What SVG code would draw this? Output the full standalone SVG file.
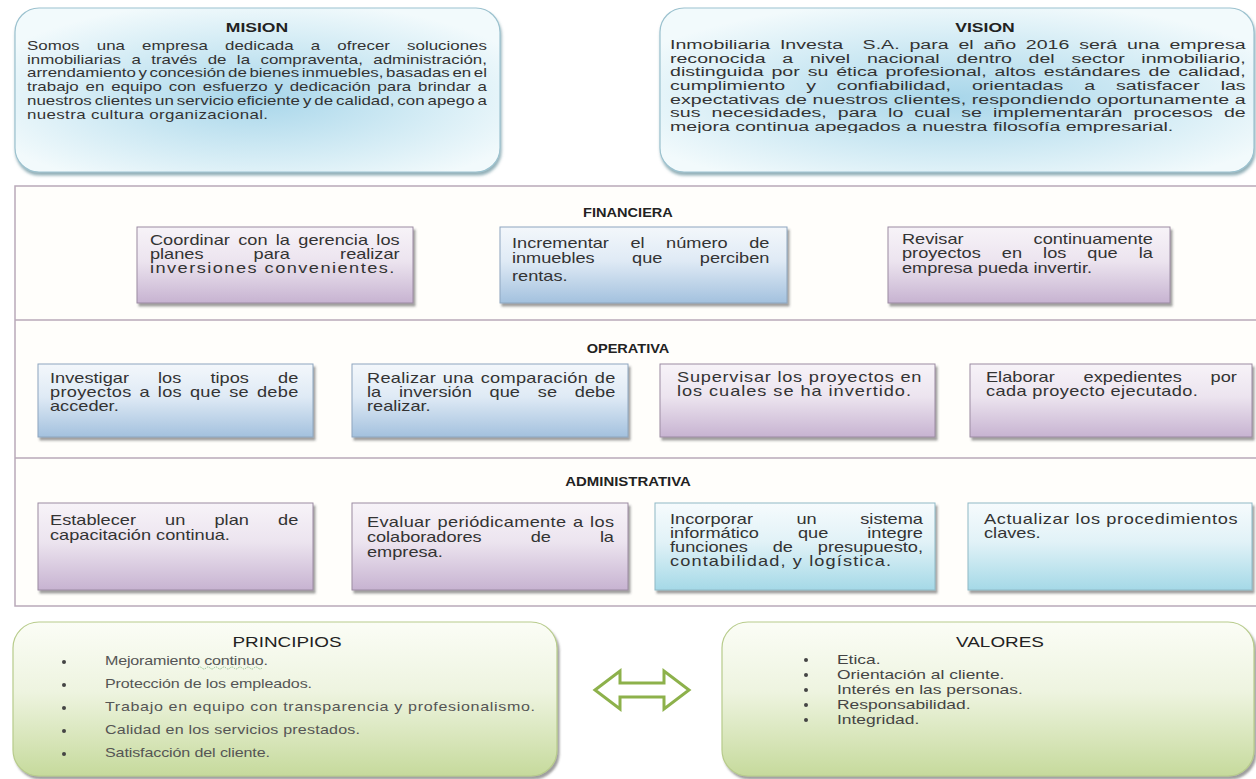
<svg xmlns="http://www.w3.org/2000/svg" width="1256" height="779" viewBox="0 0 1256 779">
<defs>
<radialGradient id="gBlueTop" cx="0.5" cy="0.55" r="0.6">
<stop offset="0" stop-color="#a8d6ea"/><stop offset="0.6" stop-color="#d4ecf5"/><stop offset="1" stop-color="#f2fafc"/>
</radialGradient>
<linearGradient id="gPurple" x1="0" y1="0" x2="0" y2="1">
<stop offset="0" stop-color="#f7f3f8"/><stop offset="0.45" stop-color="#ece4ef"/><stop offset="1" stop-color="#c7b3d1"/>
</linearGradient>
<linearGradient id="gBlue" x1="0" y1="0" x2="0" y2="1">
<stop offset="0" stop-color="#f3f7fb"/><stop offset="0.45" stop-color="#dfeaf5"/><stop offset="1" stop-color="#a3c1de"/>
</linearGradient>
<linearGradient id="gTeal" x1="0" y1="0" x2="0" y2="1">
<stop offset="0" stop-color="#f6fbfd"/><stop offset="0.45" stop-color="#e1f2f7"/><stop offset="1" stop-color="#a5d9e7"/>
</linearGradient>
<linearGradient id="gGreen" x1="0" y1="0" x2="0" y2="1">
<stop offset="0" stop-color="#fbfdf6"/><stop offset="0.45" stop-color="#eef4e0"/><stop offset="1" stop-color="#c6da9c"/>
</linearGradient>
<filter id="sh" x="-5%" y="-10%" width="115%" height="130%">
<feDropShadow dx="2" dy="3" stdDeviation="1.2" flood-color="#505050" flood-opacity="0.55"/>
</filter>
<filter id="shs" x="-5%" y="-10%" width="115%" height="130%">
<feDropShadow dx="1" dy="3" stdDeviation="1.5" flood-color="#4a7a88" flood-opacity="0.6"/>
</filter>
<clipPath id="visClip"><rect x="-20" y="8" width="500" height="125"/></clipPath>
<style>
text{font-family:"Liberation Sans",Arial,sans-serif;fill:#333;}
.m{font-size:13px;}
.vi{font-size:13.5px;}
.t{font-size:14px;}
.h{font-size:13px;font-weight:bold;text-anchor:middle;fill:#222;}
.hb{font-size:14px;text-anchor:middle;fill:#222;}
.s{font-size:12px;fill:#555;}
.v{font-size:13px;fill:#444;}
.pb{stroke:#9b8ba2;stroke-width:1;filter:url(#sh);}
.bb{stroke:#8ea6bf;stroke-width:1;filter:url(#sh);}
.tb{stroke:#8fb9c6;stroke-width:1;filter:url(#sh);}
.big{fill:url(#gBlueTop);stroke:#9cc2cf;stroke-width:1.2;filter:url(#shs);}
.grn{fill:url(#gGreen);stroke:#b8cc8c;stroke-width:1.2;filter:url(#sh);}
.div{stroke:#b9a9b9;stroke-width:1.5;fill:none;}
</style>
</defs>

<g id="mision">
<rect class="big" x="15" y="8" width="485" height="164" rx="24"/>
<text class="h" transform="translate(257 0) scale(1.3 1)" x="0" y="32" style="font-size:13.5px">MISION</text>
<g transform="translate(27 0) scale(1.3 1)">
<text class="m" x="0" y="50" word-spacing="9.6" textLength="353.8" lengthAdjust="spacing">Somos una empresa dedicada a ofrecer soluciones</text>
<text class="m" x="0" y="64" word-spacing="4.4" textLength="353.8" lengthAdjust="spacing">inmobiliarias a través de la compraventa, administración,</text>
<text class="m" x="0" y="77" word-spacing="-1.6" textLength="353.8" lengthAdjust="spacing">arrendamiento y concesión de bienes inmuebles, basadas en el</text>
<text class="m" x="0" y="91" word-spacing="1.6" textLength="353.8" lengthAdjust="spacing">trabajo en equipo con esfuerzo y dedicación para brindar a</text>
<text class="m" x="0" y="105" word-spacing="-1.3" textLength="353.8" lengthAdjust="spacing">nuestros clientes un servicio eficiente y de calidad, con apego a</text>
<text class="m" x="0" y="119" textLength="185.4" lengthAdjust="spacing">nuestra cultura organizacional.</text>
</g>
</g>

<g id="vision">
<rect class="big" x="660" y="8" width="594" height="164" rx="24"/>
<text class="h" transform="translate(985 0) scale(1.3 1)" x="0" y="32" style="font-size:13.5px">VISION</text>
<g transform="translate(670 0) scale(1.45 1)">
<text class="vi" x="0" y="49" word-spacing="3" textLength="397" lengthAdjust="spacing" xml:space="preserve">Inmobiliaria Investa  S.A. para el año 2016 será una empresa</text>
<text class="vi" x="0" y="63" word-spacing="7.8" textLength="397" lengthAdjust="spacing">reconocida a nivel nacional dentro del sector inmobiliario,</text>
<text class="vi" x="0" y="76" word-spacing="1.7" textLength="397" lengthAdjust="spacing">distinguida por su ética profesional, altos estándares de calidad,</text>
<text class="vi" x="0" y="90" word-spacing="10.7" textLength="397" lengthAdjust="spacing">cumplimiento y confiabilidad, orientadas a satisfacer las</text>
<text class="vi" x="0" y="104" textLength="397" lengthAdjust="spacing">expectativas de nuestros clientes, respondiendo oportunamente a</text>
<text class="vi" x="0" y="117" word-spacing="3.9" textLength="397" lengthAdjust="spacing">sus necesidades, para lo cual se implementarán procesos de</text>
<text class="vi" x="0" y="131" clip-path="url(#visClip)">mejora continua apegados a nuestra filosofía empresarial.</text>
</g>
</g>

<g id="panel">
<rect x="15" y="186" width="1260" height="420" fill="#fffefb" stroke="#b9a9b9" stroke-width="1.5"/>
<line class="div" x1="15" y1="320" x2="1256" y2="320"/>
<line class="div" x1="15" y1="458" x2="1256" y2="458"/>
</g>

<g id="financiera">
<text class="h" transform="translate(628 0) scale(1.12 1)" x="0" y="217">FINANCIERA</text>
</g>
<g id="f1">
<rect class="pb" x="137" y="227" width="276" height="76" fill="url(#gPurple)"/>
<g transform="translate(150 0) scale(1.3 1)">
<text class="t" x="0" y="245" word-spacing="2.5" textLength="192" lengthAdjust="spacing">Coordinar con la gerencia los</text>
<text class="t" x="0" y="259" word-spacing="34.7" textLength="192" lengthAdjust="spacing">planes para realizar</text>
<text class="t" x="0" y="273" textLength="188" lengthAdjust="spacing">inversiones convenientes.</text>
</g>
</g>
<g id="f2">
<rect class="bb" x="500" y="227" width="287" height="76" fill="url(#gBlue)"/>
<g transform="translate(512 0) scale(1.3 1)">
<text class="t" x="0" y="248" word-spacing="12.7" textLength="198" lengthAdjust="spacing">Incrementar el número de</text>
<text class="t" x="0" y="263" word-spacing="25" textLength="198" lengthAdjust="spacing">inmuebles que perciben</text>
<text class="t" x="0" y="281">rentas.</text>
</g>
</g>
<g id="f3">
<rect class="pb" x="888" y="227" width="282" height="76" fill="url(#gPurple)"/>
<g transform="translate(902 0) scale(1.3 1)">
<text class="t" x="0" y="244" word-spacing="49.9" textLength="193" lengthAdjust="spacing">Revisar continuamente</text>
<text class="t" x="0" y="258" word-spacing="12.3" textLength="193" lengthAdjust="spacing">proyectos en los que la</text>
<text class="t" x="0" y="273">empresa pueda invertir.</text>
</g>
</g>

<g id="operativa">
<text class="h" transform="translate(628 0) scale(1.12 1)" x="0" y="353">OPERATIVA</text>
</g>
<g id="o1">
<rect class="bb" x="38" y="364" width="275" height="73" fill="url(#gBlue)"/>
<g transform="translate(50 0) scale(1.3 1)">
<text class="t" x="0" y="383" word-spacing="18.5" textLength="191" lengthAdjust="spacing">Investigar los tipos de</text>
<text class="t" x="0" y="397" word-spacing="2" textLength="191" lengthAdjust="spacing">proyectos a los que se debe</text>
<text class="t" x="0" y="411">acceder.</text>
</g>
</g>
<g id="o2">
<rect class="bb" x="352" y="364" width="276" height="73" fill="url(#gBlue)"/>
<g transform="translate(367 0) scale(1.3 1)">
<text class="t" x="0" y="383" word-spacing="1" textLength="191" lengthAdjust="spacing">Realizar una comparación de</text>
<text class="t" x="0" y="397" word-spacing="9.8" textLength="191" lengthAdjust="spacing">la inversión que se debe</text>
<text class="t" x="0" y="411">realizar.</text>
</g>
</g>
<g id="o3">
<rect class="pb" x="660" y="364" width="275" height="73" fill="url(#gPurple)"/>
<g transform="translate(677 0) scale(1.3 1)">
<text class="t" x="0" y="382" textLength="188" lengthAdjust="spacing">Supervisar los proyectos en</text>
<text class="t" x="0" y="396" textLength="180" lengthAdjust="spacing">los cuales se ha invertido.</text>
</g>
</g>
<g id="o4">
<rect class="pb" x="970" y="364" width="282" height="73" fill="url(#gPurple)"/>
<g transform="translate(986 0) scale(1.3 1)">
<text class="t" x="0" y="382" word-spacing="18.3" textLength="193" lengthAdjust="spacing">Elaborar expedientes por</text>
<text class="t" x="0" y="396" textLength="163" lengthAdjust="spacing">cada proyecto ejecutado.</text>
</g>
</g>

<g id="administrativa">
<text class="h" transform="translate(628 0) scale(1.15 1)" x="0" y="486">ADMINISTRATIVA</text>
</g>
<g id="a1">
<rect class="pb" x="38" y="503" width="275" height="87" fill="url(#gPurple)"/>
<g transform="translate(50 0) scale(1.3 1)">
<text class="t" x="0" y="525" word-spacing="18.5" textLength="191" lengthAdjust="spacing">Establecer un plan de</text>
<text class="t" x="0" y="540">capacitación continua.</text>
</g>
</g>
<g id="a2">
<rect class="pb" x="352" y="503" width="276" height="87" fill="url(#gPurple)"/>
<g transform="translate(367 0) scale(1.3 1)">
<text class="t" x="0" y="527" word-spacing="1" textLength="190" lengthAdjust="spacing">Evaluar periódicamente a los</text>
<text class="t" x="0" y="542" word-spacing="33.9" textLength="190" lengthAdjust="spacing">colaboradores de la</text>
<text class="t" x="0" y="557">empresa.</text>
</g>
</g>
<g id="a3">
<rect class="tb" x="655" y="503" width="280" height="87" fill="url(#gTeal)"/>
<g transform="translate(670 0) scale(1.3 1)">
<text class="t" x="0" y="524" word-spacing="29.6" textLength="194.6" lengthAdjust="spacing">Incorporar un sistema</text>
<text class="t" x="0" y="538" word-spacing="26.1" textLength="194.6" lengthAdjust="spacing">informático que integre</text>
<text class="t" x="0" y="552" word-spacing="15.2" textLength="194.6" lengthAdjust="spacing">funciones de presupuesto,</text>
<text class="t" x="0" y="566" textLength="170" lengthAdjust="spacing">contabilidad, y logística.</text>
</g>
</g>
<g id="a4">
<rect class="tb" x="968" y="503" width="284" height="87" fill="url(#gTeal)"/>
<g transform="translate(984 0) scale(1.3 1)">
<text class="t" x="0" y="524" textLength="195" lengthAdjust="spacing">Actualizar los procedimientos</text>
<text class="t" x="0" y="538">claves.</text>
</g>
</g>

<g id="principios">
<rect class="grn" x="13" y="622" width="544" height="154" rx="26"/>
<text class="hb" transform="translate(287 0) scale(1.35 1)" x="0" y="647">PRINCIPIOS</text>
<g fill="#444">
<circle cx="64" cy="662" r="2"/><circle cx="64" cy="685" r="2"/><circle cx="64" cy="708" r="2"/><circle cx="64" cy="731" r="2"/><circle cx="64" cy="754" r="2"/>
</g>
<g transform="translate(105 0) scale(1.34 1)">
<text class="s" x="0" y="665" textLength="121.6" lengthAdjust="spacing">Mejoramiento continuo.</text>
<text class="s" x="0" y="688" textLength="154.5" lengthAdjust="spacing">Protección de los empleados.</text>
<text class="s" x="0" y="711" textLength="320.9" lengthAdjust="spacing">Trabajo en equipo con transparencia y profesionalismo.</text>
<text class="s" x="0" y="734" textLength="190.3" lengthAdjust="spacing">Calidad en los servicios prestados.</text>
<text class="s" x="0" y="757" textLength="123.1" lengthAdjust="spacing">Satisfacción del cliente.</text>
</g>
<path d="M198 668 q2 -2 4 0 t4 0 t4 0 t4 0 t4 0 t4 0 t4 0 t4 0 t4 0 t4 0 t4 0 t4 0 t4 0 t4 0 t4 0 t4 0" fill="none" stroke="#7fb57f" stroke-width="0.8" stroke-dasharray="1.5 1"/>
</g>

<g id="connectors">
<path d="M595 690 L620 671 L620 683 L664 683 L664 671 L689 690 L664 709 L664 697 L620 697 L620 709 Z" fill="#ffffff" stroke="#8db14b" stroke-width="3" stroke-linejoin="miter"/>
</g>

<g id="valores">
<rect class="grn" x="722" y="622" width="532" height="154" rx="26"/>
<text class="hb" transform="translate(1000 0) scale(1.35 1)" x="0" y="647">VALORES</text>
<g fill="#444">
<circle cx="806" cy="660" r="2"/><circle cx="806" cy="675" r="2"/><circle cx="806" cy="690" r="2"/><circle cx="806" cy="705" r="2"/><circle cx="806" cy="720" r="2"/>
</g>
<g transform="translate(837 0) scale(1.34 1)">
<text class="v" x="0" y="664">Etica.</text>
<text class="v" x="0" y="679">Orientación al cliente.</text>
<text class="v" x="0" y="694">Interés en las personas.</text>
<text class="v" x="0" y="709">Responsabilidad.</text>
<text class="v" x="0" y="724">Integridad.</text>
</g>
</g>
</svg>
